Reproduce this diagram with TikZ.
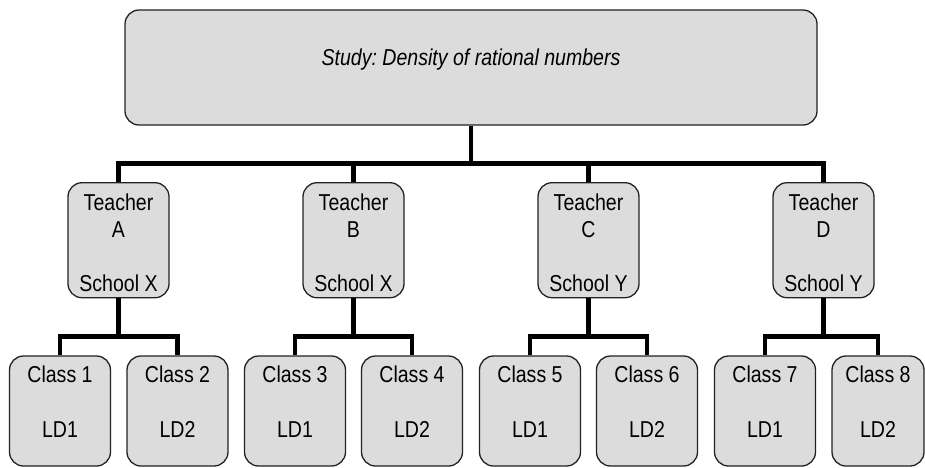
\documentclass[tikz,border=0pt]{standalone}
\usepackage{fontspec}
\setmainfont[FakeStretch=0.85]{Liberation Sans}
\definecolor{boxgray}{HTML}{DCDCDC}
\definecolor{edge}{HTML}{222222}
\frenchspacing
\begin{document}
\begin{tikzpicture}[x=1pt,y=-1pt,
    box/.style={draw=edge, line width=1.3pt, fill=boxgray, rounded corners=14pt},
    lbl/.style={font=\fontsize{23}{27}\selectfont, inner sep=0pt, anchor=base},
    link/.style={line width=4.5pt, line join=miter}]
  \useasboundingbox (0,0) rectangle (925,467);
  % study
  \node[box, minimum width=692, minimum height=115] (study) at (471,67.5) {};
  \node[lbl] (studytxt) at ([yshift=-56pt]study.north) {\itshape Study: Density of rational numbers};
  % teachers
  \foreach \t/\x/\s in {A/118.5/X, B/353.5/X, C/588.5/Y, D/823.5/Y} {
    \node[box, minimum width=101, minimum height=115] (t\t) at (\x,240.2) {};
    \node[lbl] (t\t name) at ([yshift=-28.3pt]t\t.north) {Teacher};
    \node[lbl] (t\t id) at ([yshift=-55.6pt]t\t.north) {\t};
    \node[lbl] (t\t school) at ([yshift=-109.6pt]t\t.north) {School \s};
  }
  % classes
  \foreach \c/\x/\w/\l in {1/60/101/1, 2/177.5/101/2, 3/295/101/1, 4/412/101/2,
                           5/530/101/1, 6/647/101/2, 7/765/101/1, 8/878/92/2} {
    \node[box, minimum width=\w, minimum height=110] (c\c) at (\x,411) {};
    \node[lbl] (c\c name) at ([yshift=-27.3pt]c\c.north) {Class \c};
    \node[lbl] (c\c ld) at ([yshift=-81.7pt]c\c.north) {LD\l};
  }
  % links
  \coordinate (hub) at (471,163.5);
  \draw[link] (study.south) -- (hub);
  \draw[link] (tA.north) |- (hub) -| (tD.north);
  \draw[link] (tB.north) -- (tB.north |- hub);
  \draw[link] (tC.north) -- (tC.north |- hub);
  \foreach \t/\x/\a/\b in {A/118.5/1/2, B/353.5/3/4, C/588.5/5/6, D/823.5/7/8} {
    \coordinate (h\t) at (\x,336.7);
    \draw[link] (t\t.south) -- (h\t);
    \draw[link] (c\a.north) |- (h\t) -| (c\b.north);
  }
\end{tikzpicture}
\end{document}
